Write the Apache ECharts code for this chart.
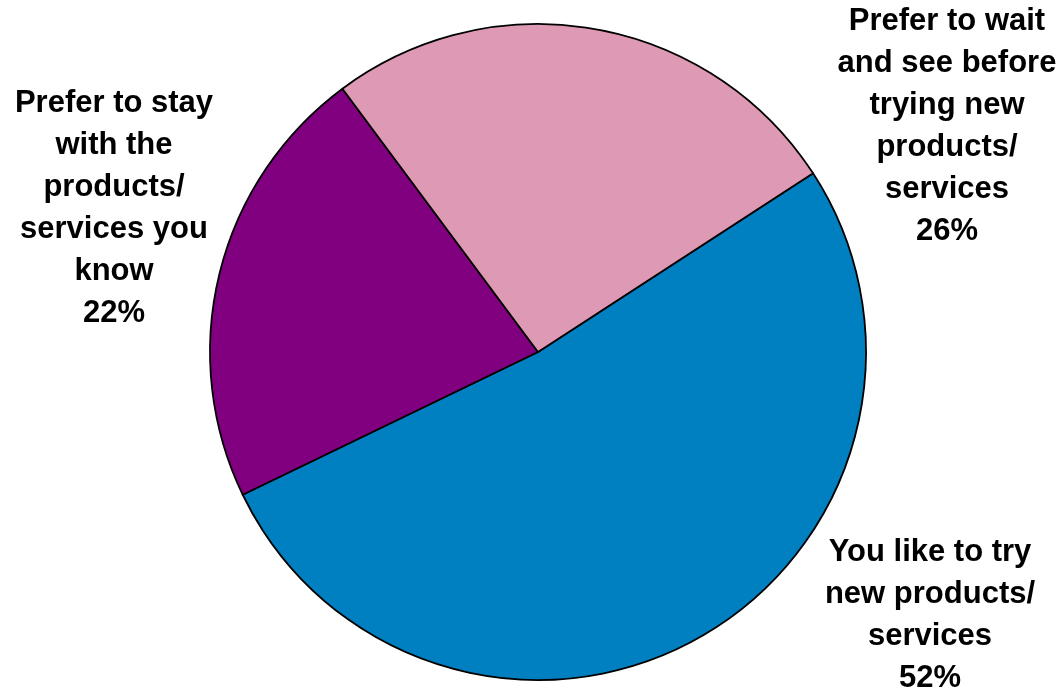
<!DOCTYPE html>
<html>
<head>
<meta charset="utf-8">
<script src="https://cdn.jsdelivr.net/npm/echarts@6/dist/echarts.min.js"></script>
<style>html,body{margin:0;padding:0;background:#fff}#c{width:1064px;height:692px}</style>
</head>
<body>
<div id="c"></div>
<script>
var categories = [
  'You like to try\nnew products/\nservices',
  'Prefer to stay\nwith the\nproducts/\nservices you\nknow',
  'Prefer to wait\nand see before\ntrying new\nproducts/\nservices'
];
var values = [52, 22, 26];
var colors = ['#0080C0', '#800080', '#DE9AB4'];
var labelPos = [[930, 615], [114, 208], [947, 126]];

var chart = echarts.init(document.getElementById('c'), null, {renderer: 'canvas'});
chart.setOption({
  animation: false,
  backgroundColor: '#ffffff',
  series: [{
    type: 'pie',
    center: [538, 352],
    radius: 328,
    startAngle: 33,
    clockwise: true,
    silent: true,
    data: categories.map(function (c, i) {
      return {name: c, value: values[i], itemStyle: {color: colors[i]}};
    }),
    itemStyle: {borderColor: '#000', borderWidth: 1.8},
    label: {
      show: true,
      position: 'outside',
      formatter: '{b}\n{c}%',
      fontFamily: 'Liberation Sans, Arial, sans-serif',
      fontWeight: 'bold',
      fontSize: 31,
      lineHeight: 42,
      color: '#000',
      align: 'center',
      overflow: 'none',
      edgeDistance: 0
    },
    labelLine: {show: false},
    labelLayout: function (p) {
      var pos = labelPos[p.dataIndex];
      return {x: pos[0], y: pos[1], align: 'center', verticalAlign: 'middle'};
    }
  }]
});
</script>
</body>
</html>
